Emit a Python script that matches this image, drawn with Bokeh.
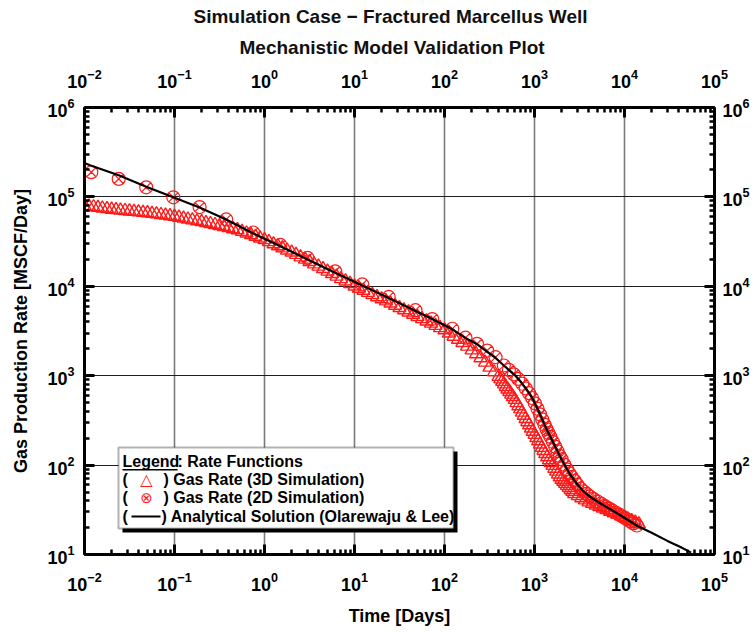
from bokeh.plotting import figure
from bokeh.models import LogAxis, LogTicker, LogTickFormatter, BoxAnnotation, Label, Title
from bokeh.embed import file_html
from bokeh.resources import INLINE

# ---------------- data ----------------
# 3D simulation gas rate (triangles)
t_3d = [0.0100, 0.0112, 0.0126, 0.0141, 0.0158, 0.0178, 0.0200, 0.0224, 0.0251, 0.0282,
        0.0316, 0.0355, 0.0398, 0.0447, 0.0501, 0.0562, 0.0631, 0.0708, 0.0794, 0.0891,
        0.100, 0.112, 0.126, 0.141, 0.158, 0.178, 0.200, 0.224, 0.251, 0.282,
        0.316, 0.355, 0.398, 0.447, 0.501, 0.562, 0.631, 0.708, 0.794, 0.891,
        1.00, 1.12, 1.26, 1.41, 1.58, 1.78, 2.00, 2.24, 2.51, 2.82,
        3.16, 3.55, 3.98, 4.47, 5.01, 5.62, 6.31, 7.08, 7.94, 8.91,
        10.0, 11.2, 12.6, 14.1, 15.8, 17.8, 20.0, 22.4, 25.1, 28.2,
        31.6, 35.5, 39.8, 44.7, 50.1, 56.2, 63.1, 70.8, 79.4, 89.1,
        100, 112, 126, 141, 158, 178, 200, 224, 251, 282, 316, 355, 398,
        417, 437, 457, 479, 501, 525, 550, 575, 603, 631, 661, 692, 724, 759, 794,
        832, 871, 912, 955, 1000, 1047, 1096, 1148, 1202, 1259, 1318, 1380, 1445,
        1514, 1585, 1660, 1738, 1820, 1905, 1995, 2089, 2188, 2291, 2399, 2512, 2630, 2754,
        3020, 3311, 3631, 3981, 4365, 4786, 5248, 5754, 6310, 6918, 7586, 8318, 9120,
        10000, 10960, 12020, 13180, 14450]
q_3d = [79400, 78200, 77100, 75900, 74600, 73600, 72400, 71600, 70800, 70000,
        69200, 68400, 67600, 66800, 66100, 65000, 64100, 63100, 62100, 61200,
        60300, 58900, 57500, 56200, 55000, 53700, 52500, 51300, 50100, 48800,
        47500, 46200, 45000, 43800, 42700, 40900, 39200, 37600, 36000, 34500,
        33100, 31400, 29700, 28200, 26700, 25300, 24000, 22600, 21200, 20000,
        18800, 17700, 16700, 15700, 14700, 13800, 12900, 12100, 11400, 10700,
        10000, 9460, 8970, 8490, 8040, 7600, 7210, 6820, 6460, 6100,
        5750, 5430, 5130, 4840, 4570, 4320, 4070, 3850, 3630, 3430,
        3240, 2990, 2750, 2540, 2340, 2130, 1930, 1750, 1580, 1410, 1240, 1100, 977,
        916, 859, 804, 753, 706, 662, 619, 581, 540, 497, 458, 423, 389, 359,
        330, 304, 281, 258, 238, 219, 202, 186, 171, 157, 145, 134, 123,
        114, 106, 98.6, 91.6, 85.1, 79.1, 73.5, 69.0, 65.5, 62.1, 59.0, 56.0, 53.1, 50.5, 47.9,
        45.3, 42.9, 40.6, 38.5, 37.1, 35.6, 34.2, 32.9, 31.6, 30.3, 29.1, 28.0, 26.9,
        25.8, 24.8, 23.8, 22.9, 21.9]

# 2D simulation gas rate (circle with x)
t_2d = [0.0119, 0.024, 0.0485, 0.097, 0.19, 0.375, 0.75, 1.5, 3.0, 6.1, 12.2, 24,
        47.6, 73, 122, 171, 230, 298, 369, 456,
        520, 590, 660, 730, 800, 870, 940, 1010, 1080, 1150, 1220, 1290, 1360, 1430,
        1500, 1600, 1700, 1800, 1900, 2000, 2150, 2300, 2450, 2600, 2800, 3000, 3250,
        3500, 3800, 4100, 4500, 5000, 5500, 6000, 6600, 7200, 8000, 8800, 9600,
        10500, 11500, 12500, 13700]
q_2d = [189000, 159000, 128000, 99000, 77000, 56000, 40000, 29000, 20800, 14700, 10500, 7600,
        5400, 4300, 3350, 2660, 2270, 1910, 1610, 1300,
        1160, 1035, 920, 813, 720, 638, 563, 491, 427, 370, 324, 284, 253, 228,
        207, 182, 161, 143, 127, 116, 101, 89.7, 80.7, 73.8, 66.6, 60.4, 54.7,
        51, 47.6, 44.7, 41.9, 39.2, 37.0, 35.0, 33.0, 31.4, 29.5, 27.9, 26.4,
        24.9, 23.5, 22.3, 21.1]

# Analytical solution (Olarewaju & Lee)
t_an = [0.01, 0.0117, 0.024, 0.0485, 0.097, 0.19, 0.375, 0.75, 1.5, 3.0, 6.1, 12.2, 24,
        47.6, 73, 122, 171, 230, 298, 369, 456, 615, 700, 800, 900, 982, 1100, 1200,
        1300, 1384, 1500, 1700, 1945, 2200, 2500, 2980, 3500, 4000, 4560, 6000, 9000,
        13800, 20000, 30000, 41900, 55000]
q_an = [240000, 225000, 175000, 130000, 99000, 76000, 56000, 39000, 28000, 20000, 14200, 10200, 7400,
        5300, 4300, 3300, 2650, 2250, 1850, 1580, 1300, 1000, 860, 720, 610, 520, 410, 336,
        280, 244, 207, 161, 122, 97, 78, 61, 51, 45.5, 41.5, 35, 27.5,
        21, 17.5, 14.2, 12.1, 10.5]

title_line1 = "Simulation Case \u2212 Fractured Marcellus Well"
title_line2 = "Mechanistic Model Validation Plot"
x_label = "Time [Days]"
y_label = "Gas Production Rate [MSCF/Day]"
legend_title = "Legend"
legend_subtitle = ": Rate Functions"
legend_labels = [") Gas Rate (3D Simulation)", ") Gas Rate (2D Simulation)",
                 ") Analytical Solution (Olarewaju & Lee)"]

# ---------------- figure ----------------
FONT = "Liberation Sans"
RED = "#ff1a1a"

p = figure(width=756, height=632, x_axis_type="log", y_axis_type="log",
           x_range=(1e-2, 1e5), y_range=(1e1, 1e6),
           output_backend="svg", toolbar_location=None,
           min_border_left=84, min_border_right=42, min_border_top=107, min_border_bottom=78)
p.title = None
p.background_fill_color = "white"
p.border_fill_color = "white"
p.outline_line_color = None

bottom_axis = p.below[0]
left_axis = p.left[0]
top_axis = LogAxis(ticker=LogTicker(num_minor_ticks=10), formatter=LogTickFormatter())
right_axis = LogAxis(ticker=LogTicker(num_minor_ticks=10), formatter=LogTickFormatter())
p.add_layout(top_axis, "above")
p.add_layout(right_axis, "right")

t2 = Title(text=title_line2, align="left", offset=155, text_font=FONT, text_font_size="19px",
           text_font_style="bold", text_color="#111111", standoff=16)
t1 = Title(text=title_line1, align="left", offset=109, text_font=FONT, text_font_size="19px",
           text_font_style="bold", text_color="#111111", standoff=0)
p.add_layout(t2, "above")
p.add_layout(t1, "above")

bottom_axis.ticker = LogTicker(num_minor_ticks=10)
left_axis.ticker = LogTicker(num_minor_ticks=10)
p.xgrid.ticker = bottom_axis.ticker
p.ygrid.ticker = left_axis.ticker

for ax in [bottom_axis, left_axis, top_axis, right_axis]:
    ax.axis_line_width = 3
    ax.axis_line_color = "black"
    ax.major_tick_in = 10
    ax.major_tick_out = 0
    ax.minor_tick_in = 5
    ax.minor_tick_out = 0
    ax.major_tick_line_width = 3
    ax.minor_tick_line_width = 2.5
    ax.major_tick_line_color = "black"
    ax.minor_tick_line_color = "black"
    ax.major_label_text_font = FONT
    ax.major_label_text_font_style = "bold"
    ax.major_label_text_font_size = "18px"
    ax.major_label_text_color = "black"
    ax.axis_label_text_font = FONT
    ax.axis_label_text_font_style = "bold"
    ax.axis_label_text_font_size = "18px"
    ax.axis_label_text_color = "black"

bottom_axis.major_label_standoff = 17
top_axis.major_label_standoff = 20
left_axis.major_label_standoff = 10
right_axis.major_label_standoff = 8
bottom_axis.axis_label = x_label
left_axis.axis_label = y_label
bottom_axis.axis_label_standoff = 12
left_axis.axis_label_standoff = 13

p.xgrid.grid_line_color = "#7a7a7a"
p.xgrid.grid_line_width = 1.6
p.ygrid.grid_line_color = "#1e1e1e"
p.ygrid.grid_line_width = 1.1

# ---------------- data marks ----------------
p.scatter(t_3d, q_3d, marker="triangle", size=13, fill_color=None, line_color=RED, line_width=1.4)
p.scatter(t_2d, q_2d, marker="circle_x", size=13, fill_color=None, line_color=RED, line_width=1.2)
p.line(t_an, q_an, line_color="black", line_width=2.2)

# ---------------- custom legend (screen units, relative to the plot frame) ----------------
def sbox(l, r, b, t, **kw):
    return BoxAnnotation(left=l, right=r, bottom=b, top=t,
                         left_units="screen", right_units="screen",
                         bottom_units="screen", top_units="screen", **kw)

def slabel(x, y, text, size="16px", color="black", font=FONT, align="left"):
    return Label(x=x, y=y, x_units="screen", y_units="screen", text=text,
                 text_font=font, text_font_size=size, text_font_style="bold",
                 text_color=color, text_align=align, text_baseline="middle")

p.add_layout(sbox(38, 373, 22, 103, fill_color="black", fill_alpha=1, line_alpha=0))
p.add_layout(sbox(34, 369, 26, 107, fill_color="white", fill_alpha=1,
                  line_color="black", line_width=2))

ys = [93, 75, 57, 38]
p.add_layout(slabel(38, ys[0], legend_title))
p.add_layout(slabel(93, ys[0], legend_subtitle))
p.add_layout(sbox(38, 93, 84, 85.5, fill_color="black", fill_alpha=1, line_alpha=0))

for i, lab in enumerate(legend_labels):
    y = ys[i + 1]
    p.add_layout(slabel(38, y, "("))
    p.add_layout(slabel(79 if i < 2 else 77, y, lab))

p.add_layout(Label(x=62, y=ys[1], x_units="screen", y_units="screen", text="\u25b3",
                   text_font="DejaVu Sans", text_font_size="16px", text_color=RED,
                   text_align="center", text_baseline="middle"))
p.add_layout(Label(x=62, y=ys[2], x_units="screen", y_units="screen", text="\u2297",
                   text_font="DejaVu Sans", text_font_size="15px", text_color=RED,
                   text_align="center", text_baseline="middle"))
p.add_layout(sbox(47, 76, ys[3] - 1, ys[3] + 1, fill_color="black", fill_alpha=1, line_alpha=0))

open("out.html", "w").write(file_html(p, INLINE))
